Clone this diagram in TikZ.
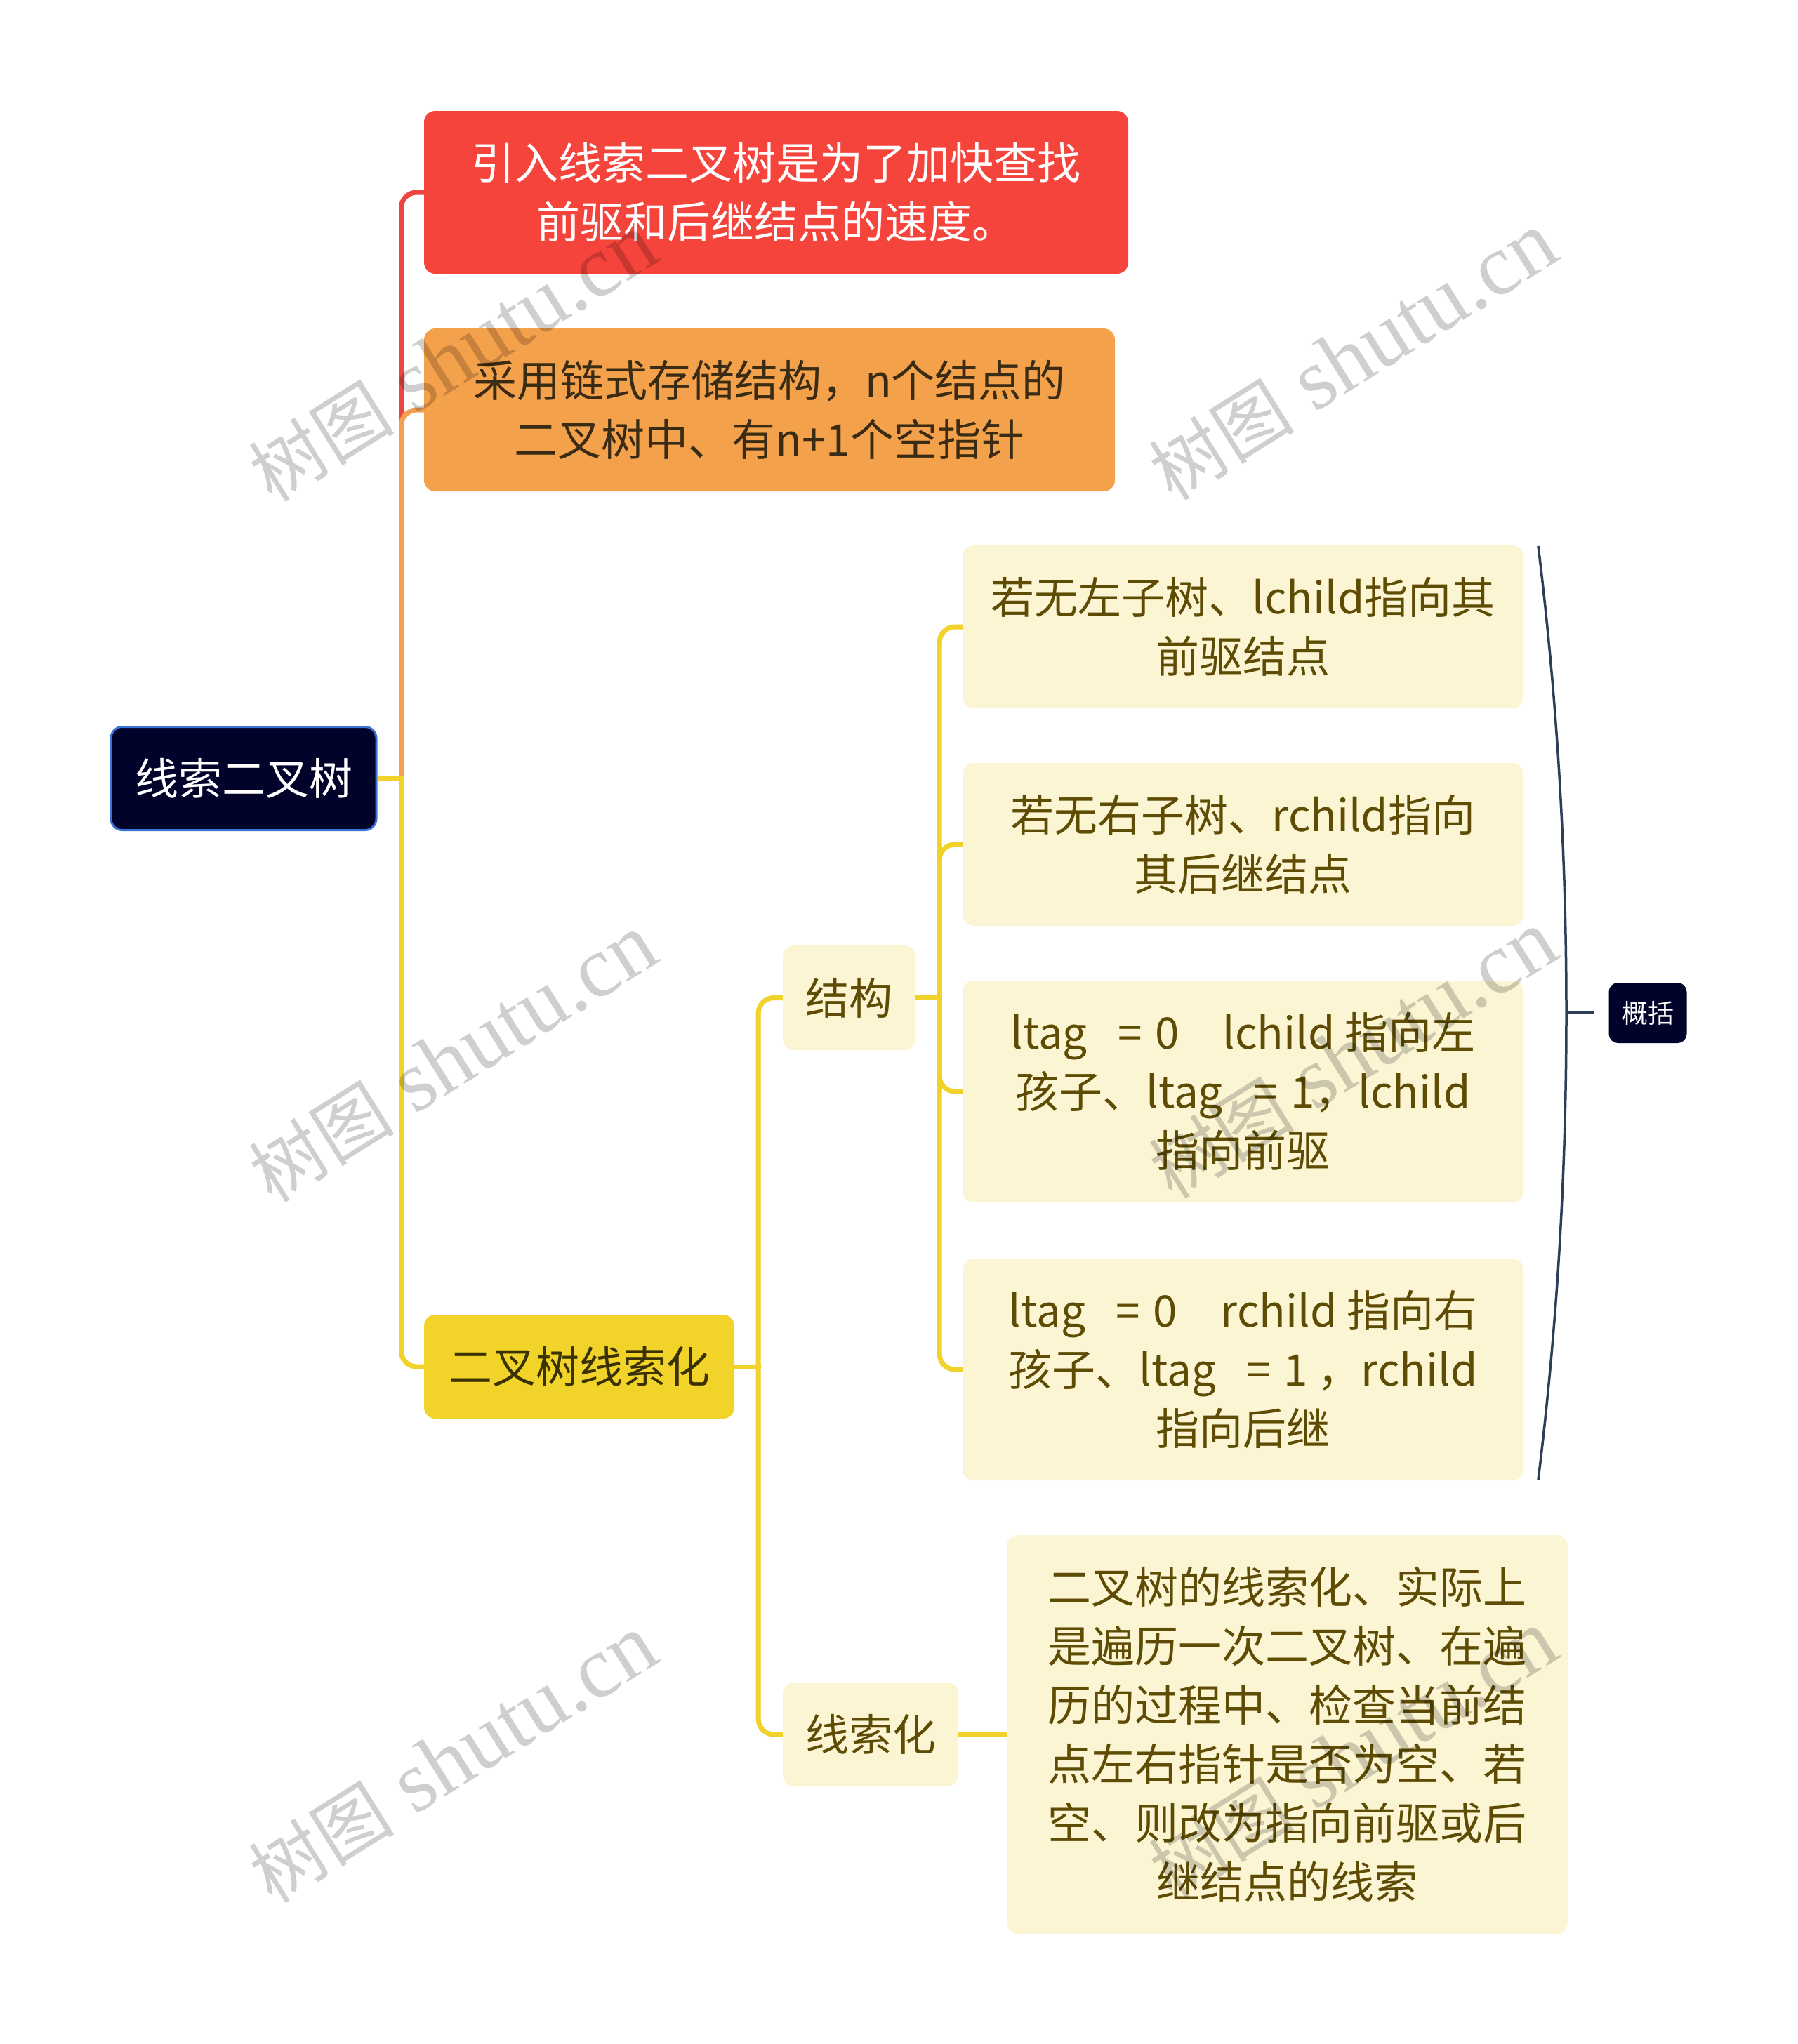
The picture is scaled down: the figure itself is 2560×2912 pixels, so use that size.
\documentclass[tikz,border=0pt]{standalone}
\usepackage{fontspec}
\setmainfont{Noto Sans CJK SC}
\newfontfamily\wmserif{Liberation Serif}
\newfontfamily\wmcjk{Noto Sans CJK SC}
\definecolor{rootfill}{HTML}{02032A}
\definecolor{rootborder}{HTML}{3B74D6}
\definecolor{redfill}{HTML}{F5443C}
\definecolor{redline}{HTML}{EC4640}
\definecolor{orangefill}{HTML}{F4A14C}
\definecolor{orangeline}{HTML}{F2A04E}
\definecolor{orangetext}{HTML}{3A2B14}
\definecolor{yellowfill}{HTML}{F1D32A}
\definecolor{yellowline}{HTML}{F0D22B}
\definecolor{yellowtext}{HTML}{3B3204}
\definecolor{leaffill}{HTML}{FBF5D4}
\definecolor{leaftext}{HTML}{5E4C04}
\definecolor{bracketcol}{HTML}{2E3E58}
\begin{document}
\begin{tikzpicture}[x=1pt,y=-1pt,
  box/.style={rectangle, rounded corners=16pt, inner sep=0pt, align=center,
    font=\fontsize{62}{84}\selectfont},
  leaf/.style={box, fill=leaffill, text=leaftext},
  conn/.style={line width=7pt, rounded corners=22pt},
  bracketline/.style={draw=bracketcol, line width=3.5pt},
  wm/.style={rotate=32, text=black, text opacity=0.19, inner sep=0pt}
]
\fill[white] (0,0) rectangle (2560,2912);
\useasboundingbox (0,0) rectangle (2560,2912);

% nodes
\node[box, fill=rootfill, draw=rootborder, line width=3pt, text=white,
  minimum width=378pt, minimum height=147pt] (root) at (347,1109) {线索二叉树};
\node[box, fill=redfill, text=white, minimum width=1003pt, minimum height=232pt]
  (red) at (1105.5,274) {引入线索二叉树是为了加快查找\\前驱和后继结点的速度。};
\node[box, fill=orangefill, text=orangetext, minimum width=984pt, minimum height=232pt]
  (orange) at (1096,584) {采用链式存储结构，n个结点的\\二叉树中、有n+1个空指针};
\node[box, fill=yellowfill, text=yellowtext, minimum width=442pt, minimum height=148pt]
  (bt) at (825,1947) {二叉树线索化};
\node[leaf, minimum width=189pt, minimum height=149pt] (jg) at (1209.5,1421.5) {结构};
\node[leaf, minimum width=250pt, minimum height=148pt] (xsh) at (1240,2471) {线索化};
\node[leaf, minimum width=799pt, minimum height=232pt] (l1) at (1770.5,893)
  {若无左子树、lchild指向其\\前驱结点};
\node[leaf, minimum width=799pt, minimum height=232pt] (l2) at (1770.5,1203)
  {若无右子树、rchild指向\\其后继结点};
\node[leaf, minimum width=799pt, minimum height=316pt] (l3) at (1770.5,1555)
  {ltag\hspace{0.7em}=\hspace{0.3em}0\hspace{1em}lchild 指向左\\孩子、ltag\hspace{0.7em}=\hspace{0.3em}1，lchild\\指向前驱};
\node[leaf, minimum width=799pt, minimum height=316pt] (l4) at (1770.5,1951)
  {ltag\hspace{0.7em}=\hspace{0.3em}0\hspace{1em}rchild 指向右\\孩子、ltag\hspace{0.7em}=\hspace{0.3em}1 ，rchild\\指向后继};
\node[leaf, minimum width=799pt, minimum height=568pt] (l5) at (1833.5,2471)
  {二叉树的线索化、实际上\\是遍历一次二叉树、在遍\\历的过程中、检查当前结\\点左右指针是否为空、若\\空、则改为指向前驱或后\\继结点的线索};
\node[box, fill=rootfill, text=white, rounded corners=13pt, minimum width=111pt,
  minimum height=86pt, font=\fontsize{37}{44}\selectfont] (gk) at (2347,1443) {概括};

% first level connectors
\coordinate (rt) at ([xshift=34pt]root.east);
\draw[conn, draw=redline] ([yshift=-4pt]rt) |- (red.west);
\draw[conn, draw=orangeline] ([yshift=-4pt]rt) |- (orange.west);
\draw[conn, draw=yellowline] ([yshift=4pt]rt) |- (bt.west);
\draw[line width=7pt, draw=yellowline] (root.east) -- ([xshift=3.5pt]rt);

% second level
\coordinate (bt-t) at ([xshift=34pt]bt.east);
\draw[conn, draw=yellowline] ([yshift=-4pt]bt-t) |- (jg.west);
\draw[conn, draw=yellowline] ([yshift=4pt]bt-t) |- (xsh.west);
\draw[line width=7pt, draw=yellowline] (bt.east) -- ([xshift=3.5pt]bt-t);

% third level
\coordinate (jg-t) at ([xshift=34pt]jg.east);
\draw[conn, draw=yellowline] ([yshift=-4pt]jg-t) |- (l1.west);
\draw[conn, draw=yellowline] ([yshift=-4pt]jg-t) |- (l2.west);
\draw[conn, draw=yellowline] ([yshift=4pt]jg-t) |- (l3.west);
\draw[conn, draw=yellowline] ([yshift=4pt]jg-t) |- (l4.west);
\draw[line width=7pt, draw=yellowline] (jg.east) -- ([xshift=3.5pt]jg-t);

\draw[line width=7pt, draw=yellowline] (xsh.east) -- (l5.west);

% summary bracket
\coordinate (bk-top) at (2191,778);
\coordinate (bk-mid) at (2231,1443);
\coordinate (bk-bot) at (2191,2108);
\draw[bracketline] (bk-top) .. controls (2222,1030) and (2231,1250) .. (bk-mid)
  .. controls (2231,1636) and (2222,1856) .. (bk-bot);
\draw[bracketline] (bk-mid) -- ([xshift=-21pt]gk.west);

% watermarks
\foreach \wx/\wy [count=\i] in {645/510, 1927/508, 645/1508, 1927/1503, 645/2506, 1927/2500}
  \node[wm] (wm\i) at (\wx,\wy) {{\wmcjk\fontsize{104}{104}\selectfont 树图}\hspace{30pt}{\wmserif\fontsize{124}{124}\selectfont shutu.cn}};
\end{tikzpicture}
\end{document}
